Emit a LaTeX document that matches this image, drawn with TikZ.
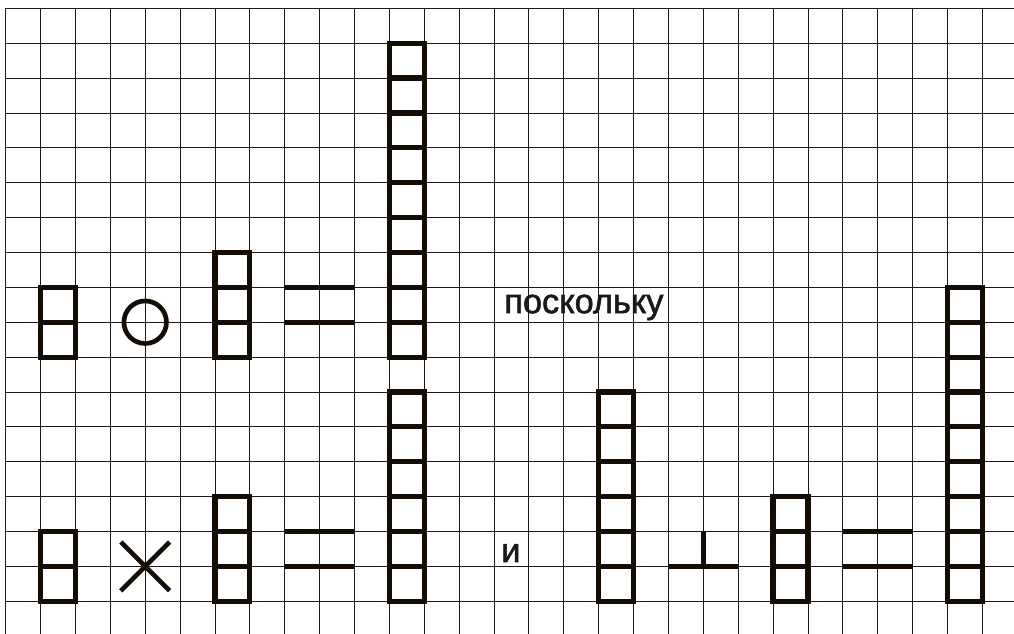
\documentclass[tikz,border=0pt]{standalone}
\usepackage{fontspec}
\setmainfont{Liberation Sans}
\newfontfamily\heavysans[FakeBold=1.6]{Liberation Sans}
\tikzset{
  gridline/.style={line width=0.7pt, black!90},
  boxline/.style={line width=4.2pt, black!90!brown, line join=miter},
  signline/.style={line width=3.8pt, black!90!brown, line cap=butt},
  word/.style={font=\heavysans\fontsize{28}{30}\selectfont, inner sep=0pt, anchor=base west, text=black!90}
}
\newcommand\boxcolumn[3]{% column x, top row, bottom row
  \draw[boxline] (#1,-#2) rectangle (#1+1,-#3);
  \pgfmathtruncatemacro\firstinner{#2+1}
  \pgfmathtruncatemacro\lastinner{#3-1}
  \foreach \r in {\firstinner,...,\lastinner} {\draw[boxline] (#1,-\r) -- (#1+1,-\r);}
}
\begin{document}
\begin{tikzpicture}
\useasboundingbox (-0.163,0.238) rectangle (28.908,-17.910);
\begin{scope}
\clip (-0.163,0.238) rectangle (28.908,-17.910);
\fill[white] (-0.163,0.238) rectangle (28.908,-17.910);
\foreach \i in {0,...,28} {\draw[gridline] (\i,0) -- (\i,-18.5);}
\foreach \j in {0,...,17} {\draw[gridline] (0,-\j) -- (29.5,-\j);}
\end{scope}
% top equation
\boxcolumn{1}{8}{10}
\draw[signline] (4,-9) circle (0.61);
\boxcolumn{6}{7}{10}
\draw[signline] (8,-8) -- (10,-8);
\draw[signline] (8,-9) -- (10,-9);
\boxcolumn{11}{1}{10}
\node[word] (since) at (14.29,-8.74) {поскольку};
% bottom equations
\boxcolumn{1}{15}{17}
\draw[signline] (3.3,-15.3) -- (4.7,-16.7);
\draw[signline] (3.3,-16.7) -- (4.7,-15.3);
\boxcolumn{6}{14}{17}
\draw[signline] (8,-15) -- (10,-15);
\draw[signline] (8,-16) -- (10,-16);
\boxcolumn{11}{11}{17}
\node[word] (and) at (14.2,-15.88) {и};
\boxcolumn{17}{11}{17}
\draw[signline] (19,-16) -- (21,-16);
\draw[signline] (20,-15) -- (20,-16);
\boxcolumn{22}{14}{17}
\draw[signline] (24,-15) -- (26,-15);
\draw[signline] (24,-16) -- (26,-16);
\boxcolumn{27}{8}{17}
\end{tikzpicture}
\end{document}
